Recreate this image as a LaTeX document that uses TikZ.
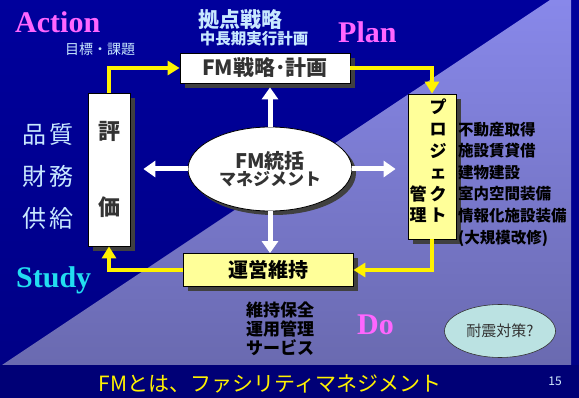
\documentclass[tikz,border=0pt]{standalone}
\usepackage{fontspec}
\setmainfont{Noto Sans CJK JP}
\newfontfamily\lserif{Liberation Serif}
\usetikzlibrary{shadows,arrows.meta,shapes.geometric}
\definecolor{bgtop}{HTML}{00009C}
\definecolor{bgmid}{HTML}{0000C4}
\definecolor{bgbot}{HTML}{000086}
\definecolor{tritop}{HTML}{8888EA}
\definecolor{tribot}{HTML}{6A6AB0}
\definecolor{barcol}{HTML}{000076}
\definecolor{pinktxt}{HTML}{FF66FF}
\definecolor{cyantxt}{HTML}{22DDF0}
\definecolor{lbtxt}{HTML}{C8E8FF}
\definecolor{boxyellow}{HTML}{FFFF99}
\definecolor{darktxt}{HTML}{333333}
\definecolor{shadowgray}{HTML}{404040}
\definecolor{quakefill}{HTML}{BBE2E2}
\begin{document}
\begin{tikzpicture}[x=1pt,y=-1pt,
  shad/.style={drop shadow={shadow xshift=5pt,shadow yshift=-5pt,fill=shadowgray,opacity=1}},
  wbox/.style={draw=black,line width=0.8pt,fill=white,inner sep=0pt,shad,text=darktxt},
  ybox/.style={draw=black,line width=0.8pt,fill=boxyellow,inner sep=0pt,shad,text=black},
  yarrow/.style={draw=yellow,line width=4pt,-{Triangle[length=12pt,width=14pt]}},
  warrow/.style={draw=white,line width=5pt,-{Triangle[length=12pt,width=16pt]}},
  pdca/.style={font=\lserif\bfseries\fontsize{30}{30}\selectfont,inner sep=0pt,anchor=base west},
  lbl/.style={inner sep=0pt,align=center},
]
\useasboundingbox (0,0) rectangle (579,398);
% background
\shade[top color=bgtop,middle color=bgmid,bottom color=bgbot] (0,0) rectangle (579,365);
\shade[top color=tritop,bottom color=tribot] (2,365) -- (550,0) -- (571,0) -- (571,365) -- cycle;
\fill[barcol] (0,365) rectangle (579,398);

% PDCA labels
\node[pdca,text=pinktxt] (action) at (15,33) {Action};
\node[pdca,text=pinktxt] (plantxt) at (338,43) {Plan};
\node[pdca,text=cyantxt] (study) at (16,288) {Study};
\node[pdca,text=pinktxt] (do) at (357,335) {Do};

% side texts
\node[lbl,text=lbtxt,font=\fontsize{14}{14}\selectfont] (goal) at (100,49) {目標・課題};
\node[lbl,text=lbtxt,font=\bfseries\fontsize{21}{21}\selectfont] (base) at (240,20) {拠点戦略};
\node[lbl,text=lbtxt,font=\bfseries\fontsize{15.5}{15.5}\selectfont] (mid) at (254,39) {中長期実行計画};
\node[lbl,text=lbtxt,font=\fontsize{24}{42}\selectfont] (qual) at (48,176) {品\hspace{3pt}質\\財\hspace{3pt}務\\供\hspace{3pt}給};

% main boxes
\node[wbox,minimum width=170pt,minimum height=30pt,font=\bfseries\fontsize{21}{21}\selectfont] (plan) at (265,68) {FM戦略･計画};
\node[wbox,minimum width=42pt,minimum height=153pt,align=center,font=\bfseries\fontsize{22}{76}\selectfont] (eval) at (109,169.5) {評\\価};
\node[ybox,minimum width=48pt,minimum height=145pt] (proj) at (432,166.5) {};
\node[ybox,minimum width=170pt,minimum height=33pt,font=\bfseries\fontsize{20}{20}\selectfont] (ops) at (268,270) {運営維持};
\node[lbl,font=\bfseries\fontsize{17}{21.6}\selectfont] (projA) at (438,161) {プ\\ロ\\ジ\\ェ\\ク\\ト};
\node[lbl,font=\bfseries\fontsize{17}{21.6}\selectfont] (projB) at (418,204) {管\\理};

% central ellipse
\node[ellipse,draw=black,line width=0.8pt,fill=white,minimum width=164pt,minimum height=84pt,inner sep=0pt,
  drop shadow={shadow xshift=4pt,shadow yshift=-4pt,fill=shadowgray,opacity=1},
  align=center,text=darktxt,font=\bfseries] (fm) at (270,169)
  {{\fontsize{20}{22}\selectfont FM統括}\\{\fontsize{17}{21}\selectfont マネジメント}};

% lists
\node[lbl,align=left,anchor=west,font=\bfseries\fontsize{15.5}{21.6}\selectfont] (list) at (458,184)
  {不動産取得\\施設賃貸借\\建物建設\\室内空間装備\\情報化施設装備\\(大規模改修)};
\node[lbl,align=left,anchor=west,font=\bfseries\fontsize{17}{19}\selectfont] (opslist) at (246,329)
  {維持保全\\運用管理\\サービス};

% quake ellipse
\node[ellipse,draw=darktxt,line width=0.6pt,fill=quakefill,minimum width=111pt,minimum height=53pt,inner sep=0pt,
  text=darktxt,font=\fontsize{15}{15}\selectfont] (quake) at (500,331) {耐震対策?};

% yellow cycle
\draw[yarrow] (eval.north) |- (plan.west);
\draw[yarrow] (plan.east) -| (proj.north);
\draw[yarrow] (proj.south) |- (ops.east);
\draw[yarrow] (ops.west) -| (eval.south);

% white arrows
\draw[warrow,shorten >=4pt] (fm.north) -- (fm.north |- plan.south);
\draw[warrow] (fm.south) -- (fm.south |- ops.north);
\draw[warrow,shorten >=13pt] (fm.west) -- (fm.west -| eval.east);
\draw[warrow,shorten >=12pt] (fm.east) -- (fm.east -| proj.west);

% title
\node[lbl,text=yellow,font=\fontsize{21}{21}\selectfont] (title) at (270,384) {FMとは、ファシリティマネジメント};
\node[lbl,text=lbtxt!80!white,font=\fontsize{12}{12}\selectfont] (pnum) at (555,381) {15};
\end{tikzpicture}
\end{document}
